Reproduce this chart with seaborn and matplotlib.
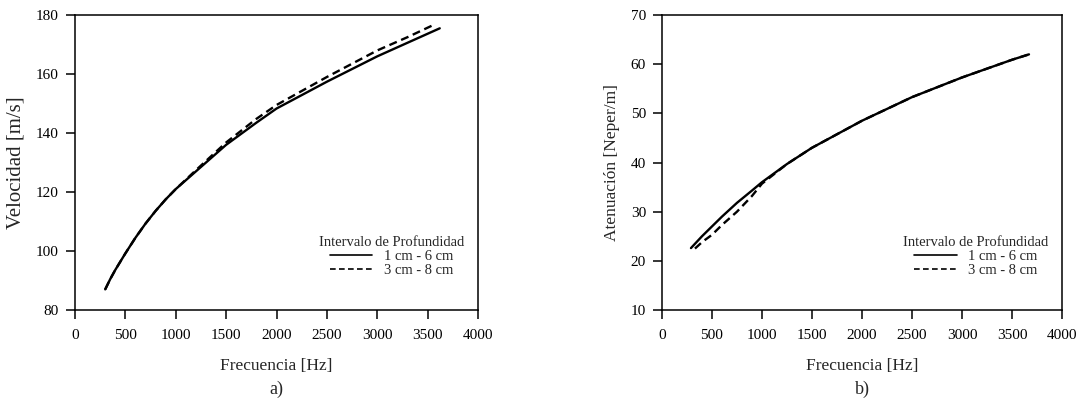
import matplotlib
matplotlib.use("Agg")
import matplotlib.pyplot as plt
import seaborn as sns
import pandas as pd

# ---- data ----
freq_v1 = [300, 350, 400, 500, 600, 700, 800, 900, 1000, 1200, 1500, 1800, 2000, 2500, 3000, 3300, 3620]
vel_1 = [87.0, 90.5, 93.6, 99.2, 104.5, 109.3, 113.6, 117.5, 121.0, 127.0, 136.0, 143.5, 148.3, 157.4, 166.0, 170.6, 175.5]
freq_v2 = [300, 350, 400, 500, 600, 700, 800, 900, 1000, 1200, 1500, 1800, 2000, 2500, 3000, 3300, 3580]
vel_2 = [87.0, 90.5, 93.6, 99.2, 104.5, 109.3, 113.6, 117.5, 121.0, 127.4, 136.8, 144.8, 149.5, 159.0, 168.0, 172.5, 177.0]

freq_a1 = [290, 400, 500, 600, 750, 900, 1000, 1250, 1500, 2000, 2500, 3000, 3500, 3670]
aten_1 = [22.6, 25.0, 27.0, 29.0, 31.8, 34.3, 36.0, 39.7, 43.0, 48.5, 53.3, 57.3, 60.9, 62.0]
freq_a2 = [330, 400, 500, 600, 750, 900, 1000, 1250, 1500, 2000, 2500, 3000, 3500, 3670]
aten_2 = [22.5, 23.8, 25.3, 27.3, 30.0, 33.2, 35.7, 39.7, 43.0, 48.5, 53.3, 57.3, 60.9, 62.0]

series_labels = ["1 cm - 6 cm", "3 cm - 8 cm"]
legend_title = "Intervalo de Profundidad"
x_ticks = [0, 500, 1000, 1500, 2000, 2500, 3000, 3500, 4000]
vel_ticks = [80, 100, 120, 140, 160, 180]
aten_ticks = [10, 20, 30, 40, 50, 60, 70]

sns.set_style("ticks")
plt.rcParams["font.family"] = ["Liberation Serif", "DejaVu Serif"]
plt.rcParams["axes.linewidth"] = 1.1
plt.rcParams["xtick.major.width"] = 1.1
plt.rcParams["ytick.major.width"] = 1.1
plt.rcParams["xtick.major.size"] = 6.5
plt.rcParams["ytick.major.size"] = 6.5
plt.rcParams["xtick.major.pad"] = 7
plt.rcParams["ytick.major.pad"] = 5

fig = plt.figure(figsize=(10.82, 3.99), dpi=100)
ax1 = fig.add_axes([0.0693, 0.223, 0.3725, 0.7393])
ax2 = fig.add_axes([0.6118, 0.223, 0.3697, 0.7393])

def draw(ax, fx1, y1, fx2, y2, ylabel, yticks, panel, ylabel_size):
    df1 = pd.DataFrame({"f": fx1, "y": y1})
    df2 = pd.DataFrame({"f": fx2, "y": y2})
    sns.lineplot(data=df1, x="f", y="y", ax=ax, color="black", linewidth=1.7,
                 label=series_labels[0])
    sns.lineplot(data=df2, x="f", y="y", ax=ax, color="black", linewidth=1.7,
                 linestyle=(0, (3.4, 2.0)), label=series_labels[1])
    ax.set_xlim(0, 4000)
    ax.set_ylim(yticks[0], yticks[-1])
    ax.set_xticks(x_ticks)
    ax.set_yticks(yticks)
    ax.tick_params(axis="both", labelsize=11, colors="black", direction="out")
    for s in ax.spines.values():
        s.set_visible(True)
        s.set_color("black")
    ax.set_xlabel("Frecuencia [Hz]", fontsize=12.5, labelpad=12)
    ax.set_ylabel(ylabel, fontsize=ylabel_size, labelpad=8)
    leg = ax.legend(title=legend_title, loc="center", bbox_to_anchor=(0.785, 0.18),
                    frameon=False, fontsize=10.5, title_fontsize=10.5,
                    handlelength=2.9, labelspacing=0.05, handletextpad=0.8,
                    borderpad=0.2)
    for h in leg.get_lines():
        h.set_linewidth(1.2)
    ax.text(0.5, -0.268, panel, transform=ax.transAxes, ha="center", va="center",
            fontsize=13)

draw(ax1, freq_v1, vel_1, freq_v2, vel_2, "Velocidad [m/s]", vel_ticks, "a)", 15)
draw(ax2, freq_a1, aten_1, freq_a2, aten_2, "Atenuación [Neper/m]", aten_ticks, "b)", 12.5)

fig.savefig("out.png", dpi=100)
